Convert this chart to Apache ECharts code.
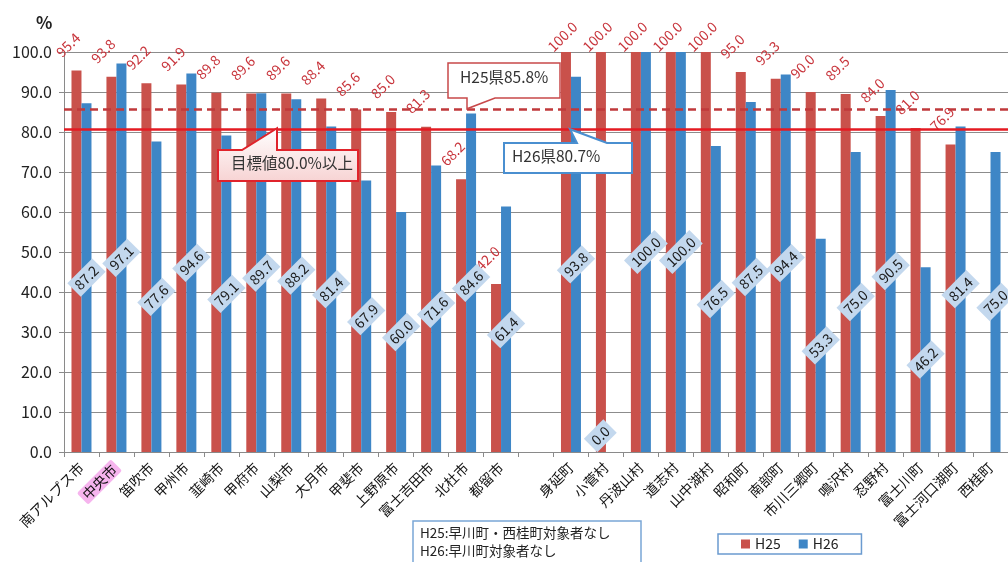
<!DOCTYPE html>
<html>
<head>
<meta charset="utf-8">
<script src="https://cdn.jsdelivr.net/npm/echarts@6/dist/echarts.min.js"></script>
<style>
  html, body { margin: 0; padding: 0; background: #fff; }
  #chart { width: 1008px; height: 562px; }
</style>
</head>
<body>
<div id="chart"></div>
<script>
// Municipalities (an empty slot separates cities from towns/villages)
const categories = [
  '南アルプス市', '中央市', '笛吹市', '甲州市', '韮崎市', '甲府市', '山梨市',
  '大月市', '甲斐市', '上野原市', '富士吉田市', '北杜市', '都留市', '',
  '身延町', '小菅村', '丹波山村', '道志村', '山中湖村', '昭和町', '南部町',
  '市川三郷町', '鳴沢村', '忍野村', '富士川町', '富士河口湖町', '西桂町'
];

// Rates (%) by fiscal year
const h25 = [95.4, 93.8, 92.2, 91.9, 89.8, 89.6, 89.6, 88.4, 85.6, 85.0, 81.3, 68.2, 42.0, null,
             100.0, 100.0, 100.0, 100.0, 100.0, 95.0, 93.3, 90.0, 89.5, 84.0, 81.0, 76.9, null];
const h26 = [87.2, 97.1, 77.6, 94.6, 79.1, 89.7, 88.2, 81.4, 67.9, 60.0, 71.6, 84.6, 61.4, null,
             93.8, 0.0, 100.0, 100.0, 76.5, 87.5, 94.4, 53.3, 75.0, 90.5, 46.2, 81.4, 75.0];

// Prefecture averages and target
const prefH25 = 85.8;
const prefH26 = 80.7;
const targetRate = 80.0;

// Value axis
const yMin = 0;
const yMax = 100;
const yStep = 10;

const seriesNames = ['H25', 'H26'];
const RED = '#C9514B';
const BLUE = '#3E86C6';
const FONT = '"Noto Sans CJK JP", "Noto Sans", sans-serif';

const chart = echarts.init(document.getElementById('chart'), null, { renderer: 'canvas' });

const fmt1 = v => Number(v).toFixed(1);

// H25 data: tags of full-height bars stay below the top edge of the chart
const h25Data = h25.map(v => (v !== null && v >= yMax ? { value: v, label: { position: [-6, 2] } } : v));
// H26 data: a zero-height bar gets its tag lifted off the baseline
const h26Data = h26.map(v => (v === 0 ? { value: v, label: { offset: [4, -19] } } : v));

chart.setOption({
  animation: false,
  backgroundColor: '#ffffff',
  textStyle: { fontFamily: FONT },
  title: {
    text: '%',
    left: 31,
    top: 9,
    textStyle: { fontSize: 17, fontWeight: 'bold', color: '#222' }
  },
  grid: { left: 64, right: 0, top: 52, bottom: 110 },
  legend: {
    data: seriesNames,
    left: 718,
    top: 534,
    icon: 'rect',
    itemWidth: 9,
    itemHeight: 9,
    itemGap: 18,
    padding: [3, 23, 3, 23],
    borderColor: '#6b9bd0',
    borderWidth: 1.5,
    backgroundColor: '#fff',
    textStyle: { fontSize: 14, color: '#222' }
  },
  xAxis: {
    type: 'category',
    data: categories,
    axisLine: { lineStyle: { color: '#8a8a8a', width: 1 } },
    axisTick: { show: true, length: 5, lineStyle: { color: '#8a8a8a' } },
    axisLabel: {
      interval: 0,
      rotate: 45,
      fontSize: 14,
      color: '#111',
      margin: 13,
      formatter: v => (v === '中央市' ? '{hl|' + v + '}' : v),
      rich: {
        hl: { backgroundColor: '#f6b4ee', padding: [1, 3, 1, 3], borderRadius: 2, fontSize: 14, color: '#111' }
      }
    }
  },
  yAxis: {
    type: 'value',
    min: yMin,
    max: yMax,
    interval: yStep,
    axisLine: { show: true, lineStyle: { color: '#8a8a8a' } },
    axisTick: { show: true, length: 5, lineStyle: { color: '#8a8a8a' } },
    splitLine: { lineStyle: { color: '#8c8c8c', width: 1 } },
    axisLabel: { fontSize: 16, color: '#222', margin: 12, formatter: fmt1 }
  },
  series: [
    {
      name: seriesNames[0],
      type: 'bar',
      data: h25Data,
      barWidth: 10,
      barGap: '0%',
      itemStyle: { color: RED },
      label: {
        show: true,
        position: [-8, -11],
        rotate: 45,
        align: 'left',
        verticalAlign: 'bottom',
        fontSize: 14,
        color: '#C8353C',
        formatter: p => fmt1(p.value)
      },
      markLine: {
        silent: true,
        symbol: 'none',
        label: { show: false },
        data: [
          { yAxis: prefH25, lineStyle: { color: '#C0393B', width: 2.5, type: [8, 5] } },
          { yAxis: prefH26, lineStyle: { color: '#E41A22', width: 2.5, type: 'solid' } }
        ]
      }
    },
    {
      name: seriesNames[1],
      type: 'bar',
      data: h26Data,
      barWidth: 10,
      itemStyle: { color: BLUE },
      label: {
        show: true,
        position: 'inside',
        rotate: 45,
        fontSize: 14,
        color: '#1a1a1a',
        backgroundColor: '#C3D8EE',
        padding: [3, 4, 2, 4],
        formatter: p => fmt1(p.value)
      }
    }
  ]
});

// Callouts and notes, tied to the reference-line positions
const yH25 = chart.convertToPixel({ yAxisIndex: 0 }, prefH25);
const yH26 = chart.convertToPixel({ yAxisIndex: 0 }, prefH26);

function callout(points, stroke, fill, lineWidth) {
  return {
    type: 'polygon',
    z: 100,
    shape: { points: points },
    style: { fill: fill, stroke: stroke, lineWidth: lineWidth }
  };
}

chart.setOption({
  graphic: [
    // target callout
    callout(
      [[218, 150], [242, 150], [277, yH26 - 1], [277, 150], [358, 150], [358, 181], [218, 181]],
      '#E0232B',
      new echarts.graphic.LinearGradient(0, 0, 0, 1, [
        { offset: 0, color: '#ffffff' },
        { offset: 1, color: '#f7d3d3' }
      ]),
      2
    ),
    {
      type: 'text', z: 101, left: 231, top: 155,
      style: { text: '目標値' + fmt1(targetRate) + '%以上', fontSize: 15.5, fill: '#333', fontFamily: FONT }
    },
    // H25 prefecture average callout
    callout(
      [[448, 63], [560, 63], [560, 98], [495, 98], [467, yH25], [467, 98], [448, 98]],
      '#C8484A', '#ffffff', 1.5
    ),
    {
      type: 'text', z: 101, left: 460, top: 69,
      style: { text: 'H25県' + fmt1(prefH25) + '%', fontSize: 15.5, fill: '#333', fontFamily: FONT }
    },
    // H26 prefecture average callout
    callout(
      [[504, 143], [577, 143], [570, yH26], [607, 143], [632, 143], [632, 173], [504, 173]],
      '#4A8FD0', '#ffffff', 2
    ),
    {
      type: 'text', z: 101, left: 512, top: 148,
      style: { text: 'H26県' + fmt1(prefH26) + '%', fontSize: 15.5, fill: '#333', fontFamily: FONT }
    },
    // note box
    {
      type: 'rect', z: 100,
      shape: { x: 413, y: 521, width: 228, height: 48 },
      style: { fill: '#fff', stroke: '#7aa6d6', lineWidth: 1.5 }
    },
    {
      type: 'text', z: 101, left: 420, top: 524,
      style: {
        text: 'H25:早川町・西桂町対象者なし\nH26:早川町対象者なし',
        fontSize: 13.5, lineHeight: 18, fill: '#222', fontFamily: FONT
      }
    }
  ]
});
</script>
</body>
</html>
